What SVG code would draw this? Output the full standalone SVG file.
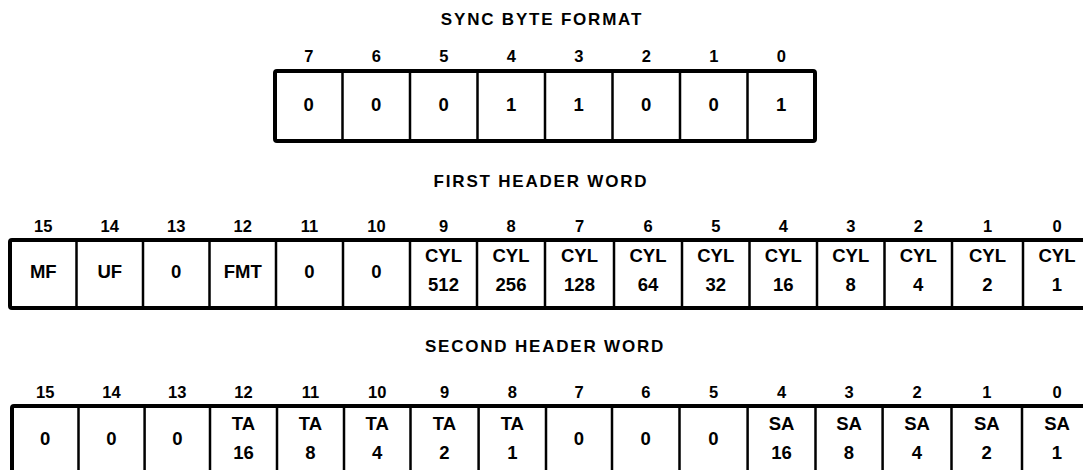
<svg xmlns="http://www.w3.org/2000/svg" width="1083" height="470" viewBox="0 0 1083 470">
<style>
.t{font-family:"Liberation Sans",Arial,Helvetica,sans-serif;font-weight:bold;font-size:18.5px;fill:#000;text-anchor:middle}
.n{font-size:16.5px}
.title{font-size:17px;letter-spacing:1.8px}
.outer{fill:#fff;stroke:#000;stroke-width:4;stroke-linejoin:round}
.div{stroke:#000;stroke-width:2.5;fill:none}
</style>
<rect width="1083" height="470" fill="#fff"/>

<g id="sync-byte-format">
  <text class="t title" x="542" y="25">SYNC BYTE FORMAT</text>
  <rect class="outer" x="275" y="71" width="540" height="70" rx="2"/>
  <path class="div" d="M342.5 71V141M410 71V141M477.5 71V141M545 71V141M612.5 71V141M680 71V141M747.5 71V141"/>
  <g id="sync-bits">
    <text class="t n" x="308.75" y="62">7</text>
    <text class="t n" x="376.25" y="62">6</text>
    <text class="t n" x="443.75" y="62">5</text>
    <text class="t n" x="511.25" y="62">4</text>
    <text class="t n" x="578.75" y="62">3</text>
    <text class="t n" x="646.25" y="62">2</text>
    <text class="t n" x="713.75" y="62">1</text>
    <text class="t n" x="781.25" y="62">0</text>
  </g>
  <g id="sync-values">
    <text class="t" x="308.75" y="111">0</text>
    <text class="t" x="376.25" y="111">0</text>
    <text class="t" x="443.75" y="111">0</text>
    <text class="t" x="511.25" y="111">1</text>
    <text class="t" x="578.75" y="111">1</text>
    <text class="t" x="646.25" y="111">0</text>
    <text class="t" x="713.75" y="111">0</text>
    <text class="t" x="781.25" y="111">1</text>
  </g>
</g>

<g id="first-header-word">
  <text class="t title" x="541" y="187">FIRST HEADER WORD</text>
  <rect class="outer" x="10" y="240" width="1082" height="68" rx="2"/>
  <path class="div" d="M76.5 240V308M143 240V308M209.5 240V308M276 240V308M343 240V308M410 240V308M477 240V308M545 240V308M614 240V308M682 240V308M749.5 240V308M817 240V308M884.5 240V308M952 240V308M1023 240V308"/>
  <g id="first-bits">
    <text class="t n" x="43.25" y="232">15</text>
    <text class="t n" x="109.75" y="232">14</text>
    <text class="t n" x="176.25" y="232">13</text>
    <text class="t n" x="242.75" y="232">12</text>
    <text class="t n" x="309.5" y="232">11</text>
    <text class="t n" x="376.5" y="232">10</text>
    <text class="t n" x="443.5" y="232">9</text>
    <text class="t n" x="511" y="232">8</text>
    <text class="t n" x="579.5" y="232">7</text>
    <text class="t n" x="648" y="232">6</text>
    <text class="t n" x="715.75" y="232">5</text>
    <text class="t n" x="783.25" y="232">4</text>
    <text class="t n" x="850.75" y="232">3</text>
    <text class="t n" x="918.25" y="232">2</text>
    <text class="t n" x="987.5" y="232">1</text>
    <text class="t n" x="1057" y="232">0</text>
  </g>
  <g id="first-fields">
    <text class="t" x="43.25" y="278">MF</text>
    <text class="t" x="109.75" y="278">UF</text>
    <text class="t" x="176.25" y="278">0</text>
    <text class="t" x="242.75" y="278">FMT</text>
    <text class="t" x="309.5" y="278">0</text>
    <text class="t" x="376.5" y="278">0</text>
    <text class="t" x="443.5" y="262">CYL</text><text class="t" x="443.5" y="291">512</text>
    <text class="t" x="511" y="262">CYL</text><text class="t" x="511" y="291">256</text>
    <text class="t" x="579.5" y="262">CYL</text><text class="t" x="579.5" y="291">128</text>
    <text class="t" x="648" y="262">CYL</text><text class="t" x="648" y="291">64</text>
    <text class="t" x="715.75" y="262">CYL</text><text class="t" x="715.75" y="291">32</text>
    <text class="t" x="783.25" y="262">CYL</text><text class="t" x="783.25" y="291">16</text>
    <text class="t" x="850.75" y="262">CYL</text><text class="t" x="850.75" y="291">8</text>
    <text class="t" x="918.25" y="262">CYL</text><text class="t" x="918.25" y="291">4</text>
    <text class="t" x="987.5" y="262">CYL</text><text class="t" x="987.5" y="291">2</text>
    <text class="t" x="1057" y="262">CYL</text><text class="t" x="1057" y="291">1</text>
  </g>
</g>

<g id="second-header-word">
  <text class="t title" x="545" y="352">SECOND HEADER WORD</text>
  <rect class="outer" x="12" y="406" width="1080" height="80" rx="2"/>
  <path class="div" d="M78.5 406V486M144.6 406V486M210 406V486M277 406V486M344 406V486M410.5 406V486M478.6 406V486M546 406V486M612 406V486M679.5 406V486M747.6 406V486M815.5 406V486M882.6 406V486M951.5 406V486M1022 406V486"/>
  <g id="second-bits">
    <text class="t n" x="45.25" y="398">15</text>
    <text class="t n" x="111.5" y="398">14</text>
    <text class="t n" x="177.3" y="398">13</text>
    <text class="t n" x="243.5" y="398">12</text>
    <text class="t n" x="310.5" y="398">11</text>
    <text class="t n" x="377.25" y="398">10</text>
    <text class="t n" x="444.5" y="398">9</text>
    <text class="t n" x="512.3" y="398">8</text>
    <text class="t n" x="579" y="398">7</text>
    <text class="t n" x="645.75" y="398">6</text>
    <text class="t n" x="713.5" y="398">5</text>
    <text class="t n" x="781.5" y="398">4</text>
    <text class="t n" x="849" y="398">3</text>
    <text class="t n" x="917" y="398">2</text>
    <text class="t n" x="986.75" y="398">1</text>
    <text class="t n" x="1057" y="398">0</text>
  </g>
  <g id="second-fields">
    <text class="t" x="45.25" y="445">0</text>
    <text class="t" x="111.5" y="445">0</text>
    <text class="t" x="177.3" y="445">0</text>
    <text class="t" x="243.5" y="430">TA</text><text class="t" x="243.5" y="459">16</text>
    <text class="t" x="310.5" y="430">TA</text><text class="t" x="310.5" y="459">8</text>
    <text class="t" x="377.25" y="430">TA</text><text class="t" x="377.25" y="459">4</text>
    <text class="t" x="444.5" y="430">TA</text><text class="t" x="444.5" y="459">2</text>
    <text class="t" x="512.3" y="430">TA</text><text class="t" x="512.3" y="459">1</text>
    <text class="t" x="579" y="445">0</text>
    <text class="t" x="645.75" y="445">0</text>
    <text class="t" x="713.5" y="445">0</text>
    <text class="t" x="781.5" y="430">SA</text><text class="t" x="781.5" y="459">16</text>
    <text class="t" x="849" y="430">SA</text><text class="t" x="849" y="459">8</text>
    <text class="t" x="917" y="430">SA</text><text class="t" x="917" y="459">4</text>
    <text class="t" x="986.75" y="430">SA</text><text class="t" x="986.75" y="459">2</text>
    <text class="t" x="1057" y="430">SA</text><text class="t" x="1057" y="459">1</text>
  </g>
</g>

<g id="connectors"></g>
</svg>
